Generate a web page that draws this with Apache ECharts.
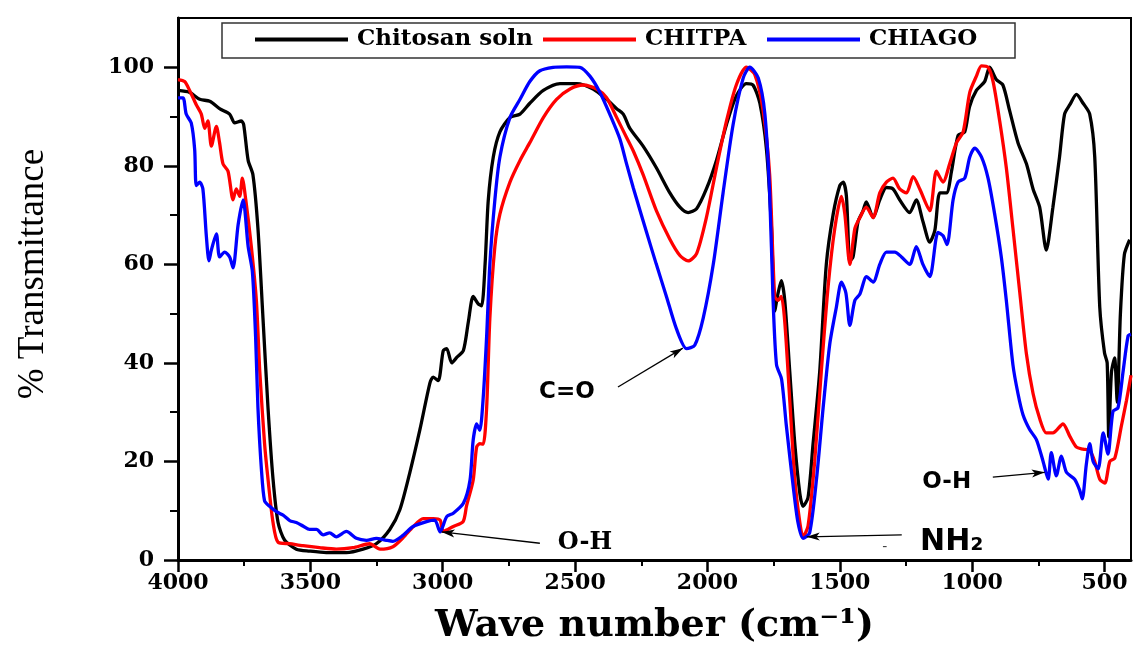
<!DOCTYPE html>
<html><head><meta charset="utf-8">
<script src="https://cdn.jsdelivr.net/npm/echarts@6/dist/echarts.min.js"></script>
<style>html,body{margin:0;padding:0;background:#fff}#c{width:1134px;height:658px}</style>
</head><body><div id="c"></div>
<script>
const seriesNames = ['Chitosan soln', 'CHITPA', 'CHIAGO'];
const seriesColors = ['#000000', '#ff0000', '#0000ff'];

const chitosanSoln = [[4000,95.3],[3956,94.9],[3918,93.5],[3880,93.1],[3843,91.6],[3805,90.5],[3786,88.7],[3761,89.1],[3752,88.4],[3735,81.1],[3717,78.2],[3698,67.3],[3679,49.1],[3660,30.9],[3641,16.4],[3622,7.6],[3597,4.0],[3553,2.2],[3503,1.8],[3440,1.5],[3364,1.5],[3301,2.2],[3251,3.3],[3200,6.2],[3162,10.2],[3124,17.8],[3086,26.5],[3048,36],[3036,37.1],[3017,36.4],[2998,42.5],[2985,42.9],[2966,40],[2947,41.1],[2922,42.5],[2903,48.4],[2885,53.5],[2866,52],[2853,51.6],[2840,60],[2828,73],[2809,81.8],[2784,86.9],[2746,89.8],[2708,90.5],[2671,92.7],[2620,95.3],[2557,96.7],[2494,96.7],[2432,95.6],[2381,93.5],[2343,91.6],[2318,90.5],[2293,87.6],[2243,84],[2193,79.6],[2142,74.5],[2104,71.6],[2073,70.5],[2041,71.3],[2004,75.3],[1966,81.1],[1928,88.4],[1891,94.2],[1853,96.7],[1828,96.4],[1802,92.7],[1777,83.3],[1758,67.3],[1746,50.5],[1733,54.2],[1721,56.7],[1708,52.7],[1689,38.2],[1670,23.6],[1651,13.5],[1639,10.9],[1620,12.7],[1601,23.6],[1576,38.2],[1551,60],[1525,70.2],[1500,76],[1487,76.7],[1475,73.8],[1462,60.7],[1450,61.5],[1431,68.7],[1412,70.9],[1400,72.7],[1374,69.5],[1349,73.1],[1324,75.6],[1299,75.3],[1274,73.1],[1236,70.5],[1211,73.1],[1186,68.7],[1160,64.5],[1141,66.9],[1122,74.5],[1097,74.5],[1078,78.9],[1053,86.2],[1028,86.9],[1010,92],[984,95.3],[953,97.1],[934,100],[909,97.5],[884,96.4],[859,91.3],[827,84.7],[795,80.4],[770,75.3],[745,71.6],[720,62.9],[695,71.6],[670,81.8],[651,90.5],[631,92.4],[606,94.5],[581,92.7],[556,90.5],[537,81.8],[518,51.3],[500,42],[490,40],[484,25],[474,38],[462,41],[452,32],[440,50],[425,62],[405,65]];

const chitpa = [[4000,97.5],[3975,97.1],[3956,95.3],[3931,92.4],[3912,90.5],[3899,87.6],[3887,89.1],[3874,84],[3855,88],[3843,84.7],[3830,80.4],[3811,78.9],[3792,73.1],[3780,75.3],[3767,73.8],[3757,77.5],[3744,73.1],[3723,63.6],[3704,52.7],[3691,38.2],[3673,23.6],[3660,16.4],[3641,7.6],[3622,3.6],[3578,3.3],[3528,2.9],[3465,2.5],[3402,2.2],[3339,2.5],[3276,3.3],[3237,2.2],[3188,2.7],[3150,4.5],[3111,6.8],[3074,8.4],[3036,8.4],[3010,8.1],[2998,5.8],[2960,6.8],[2923,7.8],[2910,11],[2885,16.2],[2872,22.9],[2860,23.6],[2847,23.5],[2834,31],[2822,49],[2803,63.6],[2784,70.2],[2746,76.7],[2708,81.1],[2671,84.7],[2620,89.8],[2570,93.5],[2519,95.6],[2469,96.4],[2419,95.6],[2381,93.8],[2343,89.8],[2306,85.8],[2280,83],[2243,78.2],[2193,70.9],[2142,65.1],[2104,61.8],[2073,60.7],[2041,62.2],[2004,69.5],[1966,79.6],[1928,89.1],[1891,96.4],[1853,100],[1821,98.5],[1790,91.3],[1765,78.2],[1746,53.5],[1733,52.7],[1721,53.5],[1708,48.4],[1689,32.4],[1670,16.4],[1651,7.6],[1639,4.7],[1620,6.9],[1595,20],[1570,38.2],[1544,55.6],[1519,67.3],[1494,73.8],[1481,70.2],[1462,60],[1443,67.3],[1424,69.5],[1400,71.6],[1374,69.5],[1349,74.5],[1324,76.7],[1299,77.5],[1274,75.3],[1248,74.5],[1223,77.8],[1198,75.3],[1160,70.9],[1135,78.9],[1110,76.7],[1085,80.4],[1059,84.7],[1034,86.9],[1009,94.9],[984,98.2],[965,100.3],[940,100],[921,97.1],[896,89.1],[871,79.6],[846,67.3],[820,54.2],[795,41.8],[770,33.8],[745,28.7],[720,25.8],[695,25.8],[657,27.6],[631,25.1],[606,22.9],[581,22.5],[556,22.2],[537,20],[518,16.4],[499,15.6],[480,20],[461,20.7],[436,27.3],[417,32.4],[400,37.5]];

const chiago = [[4000,93.8],[3981,93.8],[3969,90.5],[3950,88.7],[3937,83.3],[3931,76],[3918,76.7],[3906,75.3],[3893,65.8],[3883,60.7],[3874,62.9],[3855,66.2],[3843,61.5],[3824,62.5],[3805,61.5],[3792,59.3],[3773,68],[3754,73.1],[3735,63.6],[3719,58.5],[3707,45.5],[3698,30.9],[3685,18.5],[3673,12],[3654,10.9],[3628,9.8],[3603,9.1],[3578,8],[3553,7.6],[3528,6.9],[3503,6.2],[3477,6.2],[3452,5.1],[3427,5.5],[3402,4.7],[3364,5.8],[3326,4.4],[3288,4],[3251,4.4],[3213,4],[3188,3.8],[3150,5],[3112,6.8],[3061,7.8],[3030,8.1],[3010,5.7],[2985,8.8],[2960,9.5],[2922,11.5],[2897,16.2],[2885,24.3],[2872,27.6],[2860,26.3],[2847,33],[2834,45.5],[2822,60],[2803,73.1],[2784,81.8],[2746,89.8],[2708,93.5],[2671,97.1],[2633,99.3],[2583,100],[2532,100.1],[2482,100],[2444,98.2],[2406,94.9],[2369,90.5],[2331,85.5],[2306,80.5],[2280,75.5],[2255,71],[2230,66.5],[2193,60],[2155,53.5],[2117,46.9],[2079,42.9],[2048,43.6],[2016,49.1],[1978,60],[1941,74.5],[1903,88.4],[1865,97.8],[1840,100],[1808,97.8],[1783,90.5],[1765,74.5],[1752,52.7],[1739,39.6],[1720,36.7],[1702,27.3],[1676,14.9],[1658,7.6],[1639,4.4],[1614,5.5],[1588,16.4],[1563,30.9],[1538,43.8],[1513,51.3],[1494,56.4],[1477,54.2],[1462,47.6],[1443,52.7],[1424,54],[1399,57.5],[1374,56.4],[1349,60],[1324,62.5],[1292,62.5],[1267,61.5],[1236,60],[1211,63.6],[1186,60],[1160,57.5],[1129,66.5],[1110,65.8],[1095,64],[1072,73.1],[1053,76.7],[1028,77.5],[1009,81.8],[990,83.6],[965,81.8],[940,77.5],[915,70.2],[890,61.5],[871,52.7],[846,39.6],[827,33.8],[808,29.5],[783,26.5],[757,24.4],[732,20],[713,16.4],[701,21.8],[682,17.1],[663,21.1],[644,17.8],[613,16.4],[594,14.2],[584,12.4],[569,19.3],[556,23.6],[543,20],[524,18.5],[505,25.8],[487,21.5],[468,30.2],[449,30.9],[430,38.2],[411,45.5],[400,45.8]];

const xTickValues = [500, 1000, 1500, 2000, 2500, 3000, 3500, 4000];
const yTickValues = [0, 20, 40, 60, 80, 100];

// annotation texts: [text, wavenumber, %T, style]
const annotationTexts = [
  ['O-H', 2463, 3.4, 'serif'],
  ['C=O', 2531, 34.1, 'sans'],
  ['NH₂', 1077, 3.6, 'sansBig'],
  ['O-H', 1096, 15.8, 'sans'],
  ['-', 1330, 2.6, 'dash']
];
// arrows: [fromWn, fromT, toWn, toT]
const annotationArrows = [
  [2633, 3.4, 3004, 5.7],
  [2338, 35.1, 2093, 43.0],
  [1266, 5.1, 1625, 4.7],
  [922, 16.8, 726, 17.8]
];

const serifFont = 'DejaVu Serif';
const sansFont = 'DejaVu Sans';
const textStyles = {
  serif: {fontFamily: serifFont, fontWeight: 'bold', fontSize: 24, color: '#000'},
  sans: {fontFamily: sansFont, fontWeight: 'bold', fontSize: 23, color: '#000'},
  sansBig: {fontFamily: sansFont, fontWeight: 'bold', fontSize: 30, color: '#000'},
  dash: {fontFamily: sansFont, fontSize: 14, color: '#444'}
};

const chart = echarts.init(document.getElementById('c'), null, {renderer: 'canvas'});
const dataSets = [chitosanSoln, chitpa, chiago];

const series = dataSets.map((d, i) => ({
  name: seriesNames[i],
  type: 'line',
  data: d,
  showSymbol: false,
  smooth: 0.25,
  lineStyle: {color: seriesColors[i], width: 3.3},
  itemStyle: {color: seriesColors[i]},
  z: 2 + i
}));

series[2].markLine = {
  silent: true,
  animation: false,
  symbol: ['none', 'arrow'],
  symbolSize: [6, 13],
  label: {show: false},
  lineStyle: {color: '#000', width: 1.3, type: 'solid'},
  emphasis: {disabled: true},
  data: annotationArrows.map(a => [{coord: [a[0], a[1]]}, {coord: [a[2], a[3]]}])
};
series[2].markPoint = {
  silent: true,
  animation: false,
  symbol: 'circle',
  symbolSize: 1,
  itemStyle: {color: 'rgba(0,0,0,0)'},
  data: annotationTexts.map(t => ({
    coord: [t[1], t[2]],
    label: Object.assign({show: true, position: 'inside', formatter: t[0]}, textStyles[t[3]])
  }))
};

const legendFont = {fontFamily: serifFont, fontWeight: 'bold', fontSize: 23, color: '#000', padding: [0, 0, 0, 4]};
const legendLefts = [255, 543, 767];
const legends = seriesNames.map((n, i) => ({
  left: legendLefts[i], top: 28,
  padding: 0,
  itemWidth: 93,
  itemHeight: 4,
  icon: 'rect',
  selectedMode: false,
  textStyle: legendFont,
  data: [n]
}));

chart.setOption({
  animation: false,
  backgroundColor: '#fff',
  grid: {left: 178, right: 3, top: 18, bottom: 98, show: true, borderColor: '#000', borderWidth: 2},
  legend: legends,
  xAxis: {
    type: 'value',
    min: 400, max: 4000,
    inverse: true,
    splitNumber: 8,
    name: 'Wave number (cm⁻¹)',
    nameLocation: 'middle',
    nameGap: 47,
    nameTextStyle: {fontFamily: serifFont, fontWeight: 'bold', fontSize: 38, color: '#000'},
    axisLine: {show: true, lineStyle: {color: '#000', width: 3}},
    axisTick: {show: true, inside: false, length: 12, lineStyle: {color: '#000', width: 2.5}, customValues: xTickValues},
    minorTick: {show: true, splitNumber: 2, length: 6, lineStyle: {color: '#000', width: 2}},
    axisLabel: {margin: 12, fontFamily: serifFont, fontWeight: 'bold', fontSize: 22, color: '#000', customValues: xTickValues, formatter: v => String(v)},
    splitLine: {show: false}
  },
  yAxis: {
    type: 'value',
    min: 0, max: 110,
    interval: 20,
    axisLine: {show: true, lineStyle: {color: '#000', width: 3}},
    axisTick: {show: true, inside: false, length: 14, lineStyle: {color: '#000', width: 2.5}, customValues: yTickValues},
    minorTick: {show: true, splitNumber: 2, length: 8, lineStyle: {color: '#000', width: 2}},
    axisLabel: {margin: 24, fontFamily: serifFont, fontWeight: 'bold', fontSize: 22, color: '#000', customValues: yTickValues, formatter: v => String(v)},
    splitLine: {show: false}
  },
  graphic: [{
    type: 'rect',
    shape: {x: 222, y: 23, width: 793, height: 35},
    style: {fill: 'none', stroke: '#333', lineWidth: 1.5},
    z: 10
  }, {
    type: 'text',
    x: 33, y: 274,
    rotation: Math.PI / 2,
    style: {text: '% Transmittance', fontFamily: 'Liberation Serif', fontSize: 37, fill: '#000', align: 'center', verticalAlign: 'middle'}
  }],
  series: series
});
</script></body></html>
